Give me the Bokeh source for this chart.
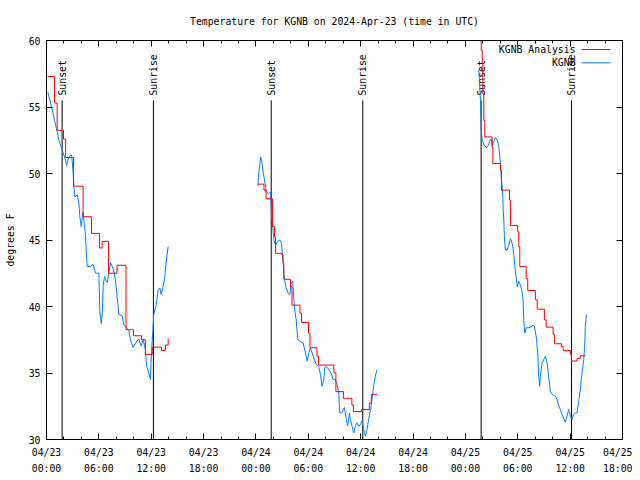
import math
from bokeh.plotting import figure
from bokeh.models import Range1d, FixedTicker, LinearAxis, Label
from bokeh.core.properties import value
from bokeh.embed import file_html
from bokeh.resources import INLINE

# ---------------- data ----------------
title_text = "Temperature for KGNB on 2024-Apr-23 (time in UTC)"
y_label = "degrees F"

# x axis: hours since 2024-04-23 00:00 UTC
x_ticks_h = [0, 6, 12, 18, 24, 30, 36, 42, 48, 54, 60, 66]
x_minor_h = list(range(0, 67, 2))
x_date_labels = ["04/23", "04/23", "04/23", "04/23", "04/24", "04/24",
                 "04/24", "04/24", "04/25", "04/25", "04/25", "04/25"]
x_time_labels = ["00:00", "06:00", "12:00", "18:00", "00:00", "06:00",
                 "12:00", "18:00", "00:00", "06:00", "12:00", "18:00"]
y_ticks = [30, 35, 40, 45, 50, 55, 60]

sun_event_h = [1.79, 12.25, 25.75, 36.24, 49.80, 60.16]
sun_event_name = ["Sunset", "Sunrise", "Sunset", "Sunrise", "Sunset", "Sunrise"]

# KGNB observations (blue), three segments
obs_t1 = [0.16, 0.47, 0.85, 1.05, 1.24, 1.42, 1.81, 2.19, 2.30, 2.57, 2.88, 2.96, 3.07, 3.14,
          3.25, 3.53, 3.71, 3.82, 3.98, 4.17, 4.28, 4.48, 4.59, 4.67, 5.05, 5.31, 5.62, 6.00,
          6.11, 6.27, 6.39, 6.50, 6.65, 6.76, 6.96, 7.14, 7.34, 7.53, 7.79, 8.02, 8.29, 8.67,
          8.86, 9.17, 9.43, 9.62, 9.93, 10.20, 10.57, 10.85, 11.08, 11.34, 11.45, 11.72, 11.91,
          12.03, 12.18, 12.29, 12.56, 12.79, 12.98, 13.14, 13.36, 13.51, 13.74, 13.94]
obs_v1 = [56.1, 55.3, 54.25, 53.6, 53.1, 52.5, 51.75, 51.0, 50.6, 51.25, 51.4, 50.8, 49.9, 49.0,
          48.25, 48.4, 47.75, 46.75, 46.0, 47.1, 46.5, 45.25, 43.6, 43.0, 43.0, 43.2, 42.5, 42.5,
          39.6, 38.7, 39.5, 41.6, 42.25, 42.0, 41.8, 42.5, 43.3, 43.0, 42.5, 41.25, 39.4, 39.3,
          38.6, 38.4, 38.2, 37.5, 36.9, 37.25, 37.55, 37.05, 37.5, 36.75, 35.6, 35.0, 34.5,
          36.6, 38.1, 39.4, 40.1, 41.25, 41.4, 40.9, 41.5, 42.0, 43.5, 44.5]

obs_t2 = [24.22, 24.33, 24.53, 24.64, 24.83, 24.98, 25.21, 25.47, 25.67, 25.78, 25.93, 26.05,
          26.24, 26.50, 26.73, 26.93, 27.12, 27.27, 27.46, 27.69, 27.88, 28.04, 28.22, 28.33,
          28.45, 28.61, 28.79, 28.99, 29.41, 29.67, 29.87, 30.05, 30.24, 30.44, 30.70, 30.93,
          31.19, 31.39, 31.58, 31.77, 31.88, 32.07, 32.34, 32.61, 32.84, 33.10, 33.30, 33.48,
          33.60, 33.87, 34.13, 34.36, 34.51, 34.71, 34.82, 35.01, 35.20, 35.39, 35.59, 35.77,
          35.96, 36.16, 36.34, 36.54, 36.73, 36.91, 37.19, 37.49, 37.68, 37.87]
obs_v2 = [49.1, 50.1, 51.25, 51.0, 50.1, 49.5, 48.6, 48.5, 48.6, 47.0, 46.0, 45.0,
          44.6, 44.9, 45.0, 44.75, 43.25, 42.0, 41.4, 41.0, 40.9, 41.75, 41.9, 40.6,
          39.75, 39.0, 37.5, 37.4, 37.25, 36.5, 35.9, 36.5, 36.9, 36.5, 36.0, 35.6,
          35.5, 34.9, 34.0, 34.5, 35.4, 35.5, 35.25, 35.0, 34.5, 34.5, 34.1, 33.5,
          32.0, 32.0, 32.4, 31.5, 31.0, 32.0, 31.5, 31.0, 30.5, 31.0, 31.25, 31.0,
          31.1, 31.4, 30.75, 30.25, 30.75, 31.5, 32.5, 34.0, 34.75, 35.25]

obs_t3 = [49.54, 49.60, 49.73, 49.81, 49.93, 50.19, 50.42, 50.61, 50.79, 50.95, 51.07, 51.25,
          51.45, 51.64, 51.82, 52.02, 52.13, 52.25, 52.33, 52.40, 52.48, 52.59, 52.79, 52.97,
          53.16, 53.36, 53.54, 53.66, 53.85, 53.93, 54.11, 54.31, 54.50, 54.62, 54.68, 54.80,
          54.96, 55.26, 55.53, 55.76, 55.91, 56.14, 56.29, 56.40, 56.51, 56.59, 56.79, 56.97,
          57.17, 57.36, 57.54, 57.74, 57.93, 58.31, 58.50, 58.68, 58.88, 59.07, 59.26, 59.45,
          59.64, 59.83, 60.03, 60.22, 60.40, 60.60, 60.79, 60.98, 61.17, 61.36, 61.55, 61.66,
          61.74, 61.86]
obs_v3 = [57.8, 57.0, 55.5, 53.25, 52.5, 52.1, 51.95, 52.1, 52.4, 52.6, 52.1, 52.4,
          52.7, 52.5, 52.1, 50.75, 49.5, 48.75, 47.25, 46.5, 45.0, 44.25, 44.25, 44.6,
          45.1, 44.75, 44.0, 43.0, 42.0, 41.5, 41.9, 41.6, 41.1, 40.4, 39.0, 38.0,
          38.4, 38.4, 38.45, 38.6, 38.5, 37.6, 36.5, 34.75, 34.0, 34.75, 35.75, 36.0,
          36.25, 35.75, 34.75, 33.6, 33.4, 33.25, 33.0, 32.6, 32.25, 31.9, 31.6, 31.3,
          31.75, 32.25, 31.75, 31.5, 31.9, 32.0, 32.0, 32.9, 33.75, 35.0, 36.0, 36.9,
          38.5, 39.4]

# KGNB Analysis (red), three segments, stepwise
ana_t1 = [0.13, 0.92, 1.22, 1.95, 2.19, 3.10, 4.19, 5.16, 6.08, 6.37, 7.11, 8.08, 9.11,
          9.97, 10.89, 11.33, 12.13, 13.17, 13.63, 13.94]
ana_v1 = [57.3, 55.3, 53.25, 52.6, 51.2, 49.05, 46.75, 45.5, 44.4, 44.9, 42.5, 43.1, 38.25,
          37.8, 37.5, 36.4, 36.95, 36.7, 37.1, 37.6]

ana_t2 = [24.22, 24.92, 25.16, 25.90, 26.13, 26.24, 26.93, 27.10, 27.19, 27.96, 28.13, 29.04,
          29.22, 30.02, 30.19, 30.99, 31.16, 32.93, 33.16, 34.02, 34.99, 35.16, 36.08, 36.99,
          37.22, 37.87]
ana_v2 = [49.2, 48.75, 48.1, 46.0, 45.25, 44.0, 43.9, 43.25, 42.05, 41.5, 40.1, 39.5,
          38.8, 38.0, 36.9, 36.25, 35.6, 35.0, 33.6, 33.1, 32.6, 32.1, 32.25, 32.75,
          33.4, 33.4]

ana_t3 = [49.54, 49.81, 49.93, 50.00, 50.11, 50.22, 51.07, 51.14, 52.02, 52.13, 53.05, 53.16,
          54.00, 54.11, 54.23, 54.96, 55.14, 56.02, 56.22, 57.05, 57.25, 58.05, 58.20, 59.00,
          59.19, 60.03, 60.14, 60.79, 61.17, 61.74]
ana_v3 = [60.5, 59.25, 58.25, 56.0, 54.0, 52.75, 52.0, 50.75, 50.25, 48.75, 48.0, 46.1,
          45.6, 44.5, 43.0, 42.1, 41.2, 40.5, 39.8, 39.0, 38.45, 37.9, 37.2, 37.0,
          36.7, 36.4, 35.9, 36.1, 36.3, 36.3]

series_names = ["KGNB Analysis", "KGNB"]

# ---------------- style ----------------
FONT = "DejaVu Sans Mono"
FS = "9.8px"
RED = "#ff0000"
BLUE = "#0080ff"

p = figure(width=632, height=476, x_range=Range1d(0, 66), y_range=Range1d(30, 60),
           output_backend="svg", toolbar_location=None, title=title_text,
           min_border_left=46, min_border_right=10, min_border_top=40, min_border_bottom=37)
p.grid.visible = False
p.outline_line_color = "black"
p.background_fill_color = "white"
p.border_fill_color = "white"

p.title.text_font = FONT
p.title.text_font_size = FS
p.title.text_font_style = "normal"
p.title.align = "center"
p.title.text_color = "black"
p.title.standoff = 27

# bottom axis (dates)
xa = p.xaxis[0]
xa.ticker = FixedTicker(ticks=x_ticks_h, minor_ticks=x_minor_h)
xa.major_label_overrides = {t: d for t, d in zip(x_ticks_h, x_date_labels)}
xa.major_tick_in = 6
xa.major_tick_out = 0
xa.minor_tick_in = 3
xa.minor_tick_out = 0
xa.major_label_standoff = 7
xa.major_label_text_font = FONT
xa.major_label_text_font_size = FS
xa.major_label_text_color = "black"
xa.axis_line_color = "black"
xa.major_tick_line_color = "black"
xa.minor_tick_line_color = "black"

# second bottom axis (times)
xb = LinearAxis(ticker=FixedTicker(ticks=x_ticks_h, minor_ticks=[]),
                major_label_overrides={t: s for t, s in zip(x_ticks_h, x_time_labels)},
                axis_line_color=None, major_tick_line_color=None, minor_tick_line_color=None,
                major_tick_in=0, major_tick_out=0, minor_tick_in=0, minor_tick_out=0,
                major_label_standoff=2, major_label_text_font=FONT,
                major_label_text_font_size=FS, major_label_text_color="black")
p.add_layout(xb, "below")

# top mirror axis (ticks only)
xt = LinearAxis(ticker=FixedTicker(ticks=x_ticks_h, minor_ticks=x_minor_h),
                major_label_overrides={t: "" for t in x_ticks_h},
                major_label_standoff=0,
                axis_line_color=None, major_tick_in=6, major_tick_out=0,
                minor_tick_in=3, minor_tick_out=0,
                major_tick_line_color="black", minor_tick_line_color="black")
p.add_layout(xt, "above")

# left axis
ya = p.yaxis[0]
ya.ticker = FixedTicker(ticks=y_ticks, minor_ticks=[])
ya.major_tick_in = 6
ya.major_tick_out = 0
ya.minor_tick_in = 0
ya.minor_tick_out = 0
ya.major_label_standoff = 6
ya.major_label_text_font = FONT
ya.major_label_text_font_size = FS
ya.major_label_text_color = "black"
ya.axis_label = y_label
ya.axis_label_text_font = FONT
ya.axis_label_text_font_size = FS
ya.axis_label_text_font_style = "normal"
ya.axis_label_text_color = "black"
ya.axis_label_standoff = 10
ya.axis_line_color = "black"

# right mirror axis (ticks only)
yr = LinearAxis(ticker=FixedTicker(ticks=y_ticks, minor_ticks=[]),
                major_label_overrides={t: "" for t in y_ticks},
                major_label_standoff=0,
                axis_line_color=None, major_tick_in=6, major_tick_out=0,
                minor_tick_in=0, minor_tick_out=0, major_tick_line_color="black")
p.add_layout(yr, "right")

# sunrise / sunset markers
LINE_TOP = 55.5
LABEL_Y = 55.86
p.segment(x0=sun_event_h, x1=sun_event_h, y0=[30] * len(sun_event_h),
          y1=[LINE_TOP] * len(sun_event_h), line_color="black", line_width=1)
p.text(x=sun_event_h, y=[LABEL_Y] * len(sun_event_h), text=sun_event_name,
       angle=math.pi / 2, text_align="left", text_baseline="middle",
       text_font=value(FONT), text_font_size=value(FS), text_color="black")

# data
for t, v in [(obs_t1, obs_v1), (obs_t2, obs_v2), (obs_t3, obs_v3)]:
    p.line(t, v, line_color=BLUE, line_width=1)
for t, v in [(ana_t1, ana_v1), (ana_t2, ana_v2), (ana_t3, ana_v3)]:
    p.step(t, v, mode="after", line_color=RED, line_width=1)

# gnuplot-style key (text, then sample line)
KEY_TEXT_X = 60.62
KEY_LINE_X0, KEY_LINE_X1 = 61.3, 64.63
KEY_Y = [59.32, 58.32]
KEY_COLORS = [RED, BLUE]
for name, ky, kc in zip(series_names, KEY_Y, KEY_COLORS):
    p.add_layout(Label(x=KEY_TEXT_X, y=ky, text=name, text_align="right",
                       text_baseline="middle", text_font=FONT, text_font_size=FS,
                       text_color="black"))
    p.segment(x0=[KEY_LINE_X0], x1=[KEY_LINE_X1], y0=[ky], y1=[ky],
              line_color=kc, line_width=1)

open("out.html", "w").write(file_html(p, INLINE))
